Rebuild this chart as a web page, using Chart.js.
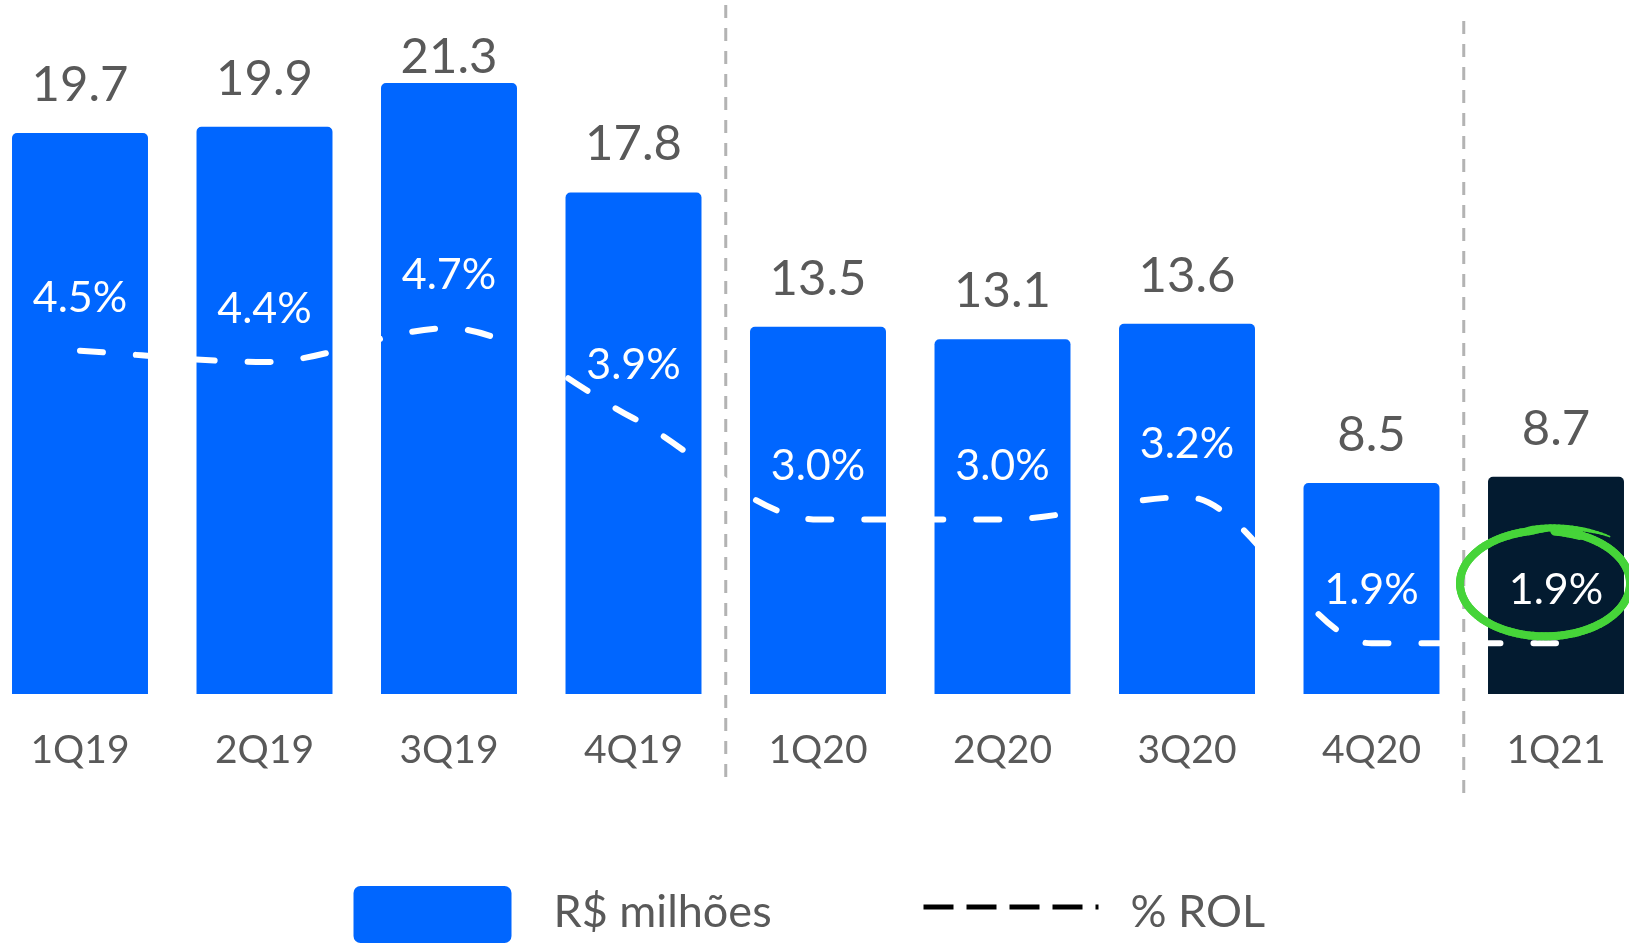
<!DOCTYPE html>
<html>
<head>
<meta charset="utf-8">
<script src="https://cdn.jsdelivr.net/npm/chart.js@4"></script>
<style>
  html, body { margin: 0; padding: 0; background: #ffffff; }
  #wrap { width: 1629px; height: 947px; position: relative; }
</style>
</head>
<body>
<div id="wrap"><canvas id="ExpenseChart"></canvas></div>
<script>
const quarters = ['1Q19', '2Q19', '3Q19', '4Q19', '1Q20', '2Q20', '3Q20', '4Q20', '1Q21'];
const expenses = [19.7, 19.9, 21.3, 17.8, 13.5, 13.1, 13.6, 8.5, 8.7];
const rolPct = [4.5, 4.4, 4.7, 3.9, 3.0, 3.0, 3.2, 1.9, 1.9];
const seriesNames = ['R$ milhões', '% ROL'];

const BLUE = '#0066ff';
const NAVY = '#031b30';
const GREY_TEXT = '#595959';
const FONT = 'Lato, "Noto Sans", sans-serif';
const Y_MIN = 1.75;

// value labels, percent labels, year dividers, highlight ring and legend
const decorations = {
  id: 'decorations',
  beforeDatasetsDraw(chart) {
    const ctx = chart.ctx;
    const x = chart.scales.x;
    const dividers = [[3, 4, 5, 779], [7, 8, 21, 795]];
    ctx.save();
    ctx.strokeStyle = '#b3b3b3';
    ctx.lineWidth = 3;
    ctx.setLineDash([13, 10]);
    dividers.forEach(d => {
      const px = (x.getPixelForValue(d[0]) + x.getPixelForValue(d[1])) / 2;
      ctx.beginPath();
      ctx.moveTo(px, d[2]);
      ctx.lineTo(px, d[3]);
      ctx.stroke();
    });
    ctx.restore();
  },
  afterDatasetsDraw(chart) {
    const ctx = chart.ctx;
    const bars = chart.getDatasetMeta(0).data;
    const pts = chart.getDatasetMeta(1).data;
    ctx.save();
    ctx.textAlign = 'center';
    ctx.textBaseline = 'middle';

    ctx.fillStyle = GREY_TEXT;
    ctx.font = '49px ' + FONT;
    bars.forEach((b, i) => {
      ctx.fillText(expenses[i].toFixed(1), b.x, Math.max(b.y - 48, 57));
    });

    ctx.fillStyle = '#ffffff';
    ctx.font = '43px ' + FONT;
    pts.forEach((p, i) => {
      ctx.fillText(rolPct[i].toFixed(1) + '%', p.x, p.y - 53);
    });

    // green hand-drawn ring round the last percentage
    const last = pts[pts.length - 1];
    const cx = last.x - 11, cy = last.y - 60;
    ctx.strokeStyle = '#46d439';
    ctx.lineCap = 'round';
    const steps = 140;
    const a0 = -1.45, a1 = a0 + 2 * Math.PI * 1.1;
    for (let s = 0; s < steps; s++) {
      const k = s / steps, k2 = (s + 1) / steps;
      const pos = kk => {
        const a = a0 + (a1 - a0) * kk;
        const g = kk > 0.86 ? (kk - 0.86) * 70 : 0;
        return [cx + (85 + g) * Math.cos(a), cy + (53 + g * 0.3) * Math.sin(a) - g * 0.6];
      };
      const p1 = pos(k), p2 = pos(k2);
      ctx.lineWidth = k > 0.86 ? Math.max(1.5, 9 - (k - 0.86) * 55) : (k < 0.04 ? 10 : 8);
      ctx.beginPath();
      ctx.moveTo(p1[0], p1[1]);
      ctx.lineTo(p2[0], p2[1]);
      ctx.stroke();
    }

    // legend
    const mid = chart.width / 2;
    ctx.fillStyle = BLUE;
    ctx.beginPath();
    ctx.roundRect(mid - 461, 886, 158, 57, 7);
    ctx.fill();
    ctx.fillStyle = GREY_TEXT;
    ctx.font = '45px ' + FONT;
    ctx.textAlign = 'left';
    ctx.fillText(seriesNames[0], mid - 261, 912);
    ctx.strokeStyle = '#000000';
    ctx.lineWidth = 5;
    ctx.lineCap = 'butt';
    ctx.setLineDash([30, 13]);
    ctx.beginPath();
    ctx.moveTo(mid + 109, 907);
    ctx.lineTo(mid + 284, 907);
    ctx.stroke();
    ctx.fillText(seriesNames[1], mid + 316, 912);
    ctx.restore();
  }
};

window.onload = function() {
  const ctx = document.getElementById('ExpenseChart').getContext('2d');

  const data = {
    labels: quarters,
    datasets: [{
      type: 'bar',
      label: seriesNames[0],
      data: expenses,
      yAxisID: 'y',
      base: Y_MIN,
      backgroundColor: c => c.dataIndex === quarters.length - 1 ? NAVY : BLUE,
      borderRadius: { topLeft: 5, topRight: 5, bottomLeft: 0, bottomRight: 0 },
      borderSkipped: false,
      categoryPercentage: 1,
      barPercentage: 0.737,
      clip: false,
      order: 1
    }, {
      type: 'line',
      label: seriesNames[1],
      data: rolPct,
      yAxisID: 'y1',
      borderColor: '#ffffff',
      borderWidth: 6,
      borderDash: [23, 33],
      borderCapStyle: 'round',
      cubicInterpolationMode: 'monotone',
      pointRadius: 0,
      clip: false,
      order: 0
    }]
  };

  const config = {
    type: 'bar',
    data: data,
    plugins: [decorations],
    options: {
      responsive: true,
      maintainAspectRatio: false,
      animation: false,
      layout: { padding: { left: 80, right: 73, top: 30, bottom: 140 } },
      plugins: {
        legend: { display: false },
        tooltip: { enabled: false }
      },
      scales: {
        x: {
          offset: false,
          grid: { display: false, drawTicks: false },
          border: { display: false },
          afterFit(scale) {
            scale.paddingLeft = 0;
            scale.paddingRight = 0;
          },
          ticks: {
            color: GREY_TEXT,
            padding: 37,
            font: { family: FONT, size: 39, lineHeight: 1 }
          }
        },
        y: { display: false, min: Y_MIN, max: 23 },
        y1: { display: false, min: 1.45, max: 7.35 }
      }
    }
  };

  new Chart(ctx, config);
};
</script>
</body>
</html>
